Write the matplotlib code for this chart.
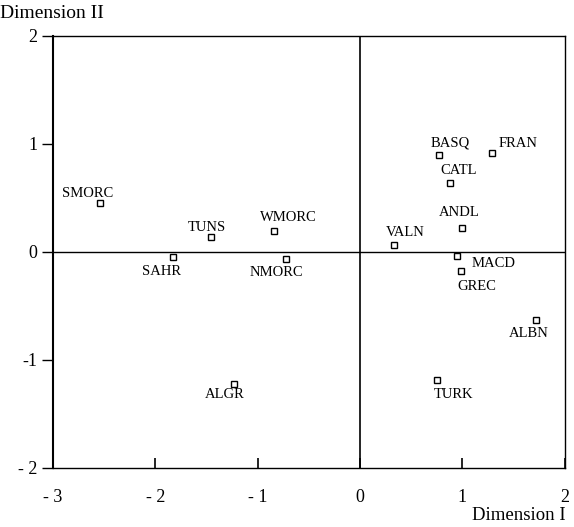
import matplotlib
matplotlib.use('Agg')
import matplotlib.pyplot as plt

plt.rcParams['font.family'] = ['Liberation Serif', 'DejaVu Serif']

# coordinates
names = ['SMORC', 'TUNS', 'WMORC', 'SAHR', 'NMORC', 'BASQ', 'FRAN', 'CATL',
         'ANDL', 'VALN', 'MACD', 'GREC', 'ALBN', 'ALGR', 'TURK']
dim1 = [-2.54, -1.46, -0.84, -1.83, -0.72, 0.77, 1.29, 0.88,
        1.00, 0.33, 0.95, 0.99, 1.72, -1.23, 0.75]
dim2 = [0.45, 0.14, 0.19, -0.05, -0.07, 0.90, 0.92, 0.64,
        0.22, 0.06, -0.04, -0.18, -0.63, -1.22, -1.19]
# label offsets in points (dx, dy)
offsets = [(-9, 7), (-3, 7), (10, 10), (-8, -10), (-7, -9.5), (8.5, 8.5), (19, 6.5), (6, 9),
           (-2, 11), (8, 9.5), (26, -5), (11, -11), (-5, -9.5), (-7, -8), (12, -10)]

xticks = [-3, -2, -1, 0, 1, 2]
xlabels = ['- 3', '- 2', '- 1', '0', '1', '2']
yticks = [-2, -1, 0, 1, 2]
ylabels = ['- 2', '-1', '0', '1', '2']

fig = plt.figure(figsize=(5.74, 5.27), dpi=100)
ax = fig.add_axes([0.0923, 0.112, 0.8917, 0.82])
ax.set_xlim(-3, 2)
ax.set_ylim(-2, 2)

ax.axhline(0, color='black', lw=1.0)
ax.axvline(0, color='black', lw=1.2)

ax.plot(dim1, dim2, 's', ms=4, mfc='white', mec='black', mew=1.0, ls='none')
for n, x, y, (dx, dy) in zip(names, dim1, dim2, offsets):
    ax.annotate(n, (x, y), xytext=(dx, dy), textcoords='offset points',
                ha='center', va='center', fontsize=10.5)

for s in ax.spines.values():
    s.set_linewidth(1.0)
ax.spines['left'].set_linewidth(1.5)

ax.set_xticks(xticks)
ax.set_xticklabels(xlabels, fontsize=13)
ax.set_yticks(yticks)
ax.set_yticklabels(ylabels, fontsize=13)
ax.tick_params(axis='x', direction='in', length=7, width=1.2, pad=15)
ax.tick_params(axis='y', direction='out', length=8, width=1.0, pad=3)

fig.text(0.0, 0.975, 'Dimension II', fontsize=14, ha='left', va='center')
fig.text(0.985, 0.006, 'Dimension I', fontsize=13.5, ha='right', va='bottom')

fig.savefig('out.png', dpi=100)
